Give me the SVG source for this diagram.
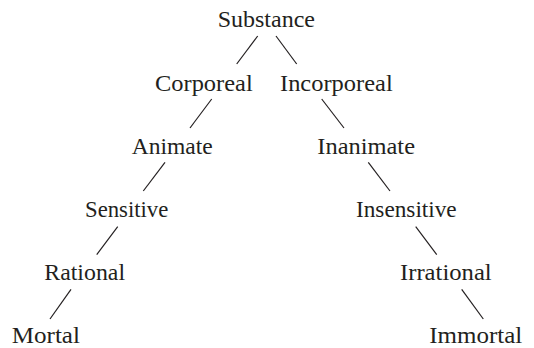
<svg xmlns="http://www.w3.org/2000/svg" width="534" height="348" viewBox="0 0 534 348">
<style>
.t{font-family:"Liberation Serif","Times New Roman",serif;font-size:23.5px;fill:#231f20}
.c line{stroke:#231f20;stroke-width:1.2;fill:none}
</style>
<rect width="534" height="348" fill="#fff"/>
<g class="c" id="connectors">
<line x1="257.7" y1="36" x2="236.7" y2="64"/>
<line x1="276" y1="36" x2="296.7" y2="64"/>
<line x1="211.7" y1="99" x2="190" y2="128"/>
<line x1="321.7" y1="99" x2="344" y2="128"/>
<line x1="165" y1="162.3" x2="143.3" y2="191"/>
<line x1="368.3" y1="162.3" x2="390" y2="191"/>
<line x1="117.7" y1="226.7" x2="96.7" y2="254.7"/>
<line x1="415.7" y1="226.7" x2="436.7" y2="254.7"/>
<line x1="71" y1="289.3" x2="50" y2="319"/>
<line x1="461.7" y1="289.3" x2="483.3" y2="319"/>
</g>
<g id="substance"><text class="t" x="217.7" y="27" textLength="97.3" lengthAdjust="spacingAndGlyphs">Substance</text></g>
<g id="corporeal"><text class="t" x="155" y="90.5" textLength="97.7" lengthAdjust="spacingAndGlyphs">Corporeal</text></g>
<g id="incorporeal"><text class="t" x="280" y="90.5" textLength="112.7" lengthAdjust="spacingAndGlyphs">Incorporeal</text></g>
<g id="animate"><text class="t" x="131.7" y="153.5" textLength="81" lengthAdjust="spacingAndGlyphs">Animate</text></g>
<g id="inanimate"><text class="t" x="317.3" y="153.5" textLength="97.7" lengthAdjust="spacingAndGlyphs">Inanimate</text></g>
<g id="sensitive"><text class="t" x="85" y="217" textLength="83.3" lengthAdjust="spacingAndGlyphs">Sensitive</text></g>
<g id="insensitive"><text class="t" x="356" y="217" textLength="100.7" lengthAdjust="spacingAndGlyphs">Insensitive</text></g>
<g id="rational"><text class="t" x="44.3" y="280" textLength="80.7" lengthAdjust="spacingAndGlyphs">Rational</text></g>
<g id="irrational"><text class="t" x="400" y="280" textLength="91.7" lengthAdjust="spacingAndGlyphs">Irrational</text></g>
<g id="mortal"><text class="t" x="11.7" y="342.5" textLength="68.3" lengthAdjust="spacingAndGlyphs">Mortal</text></g>
<g id="immortal"><text class="t" x="429.3" y="342.5" textLength="93" lengthAdjust="spacingAndGlyphs">Immortal</text></g>
</svg>
